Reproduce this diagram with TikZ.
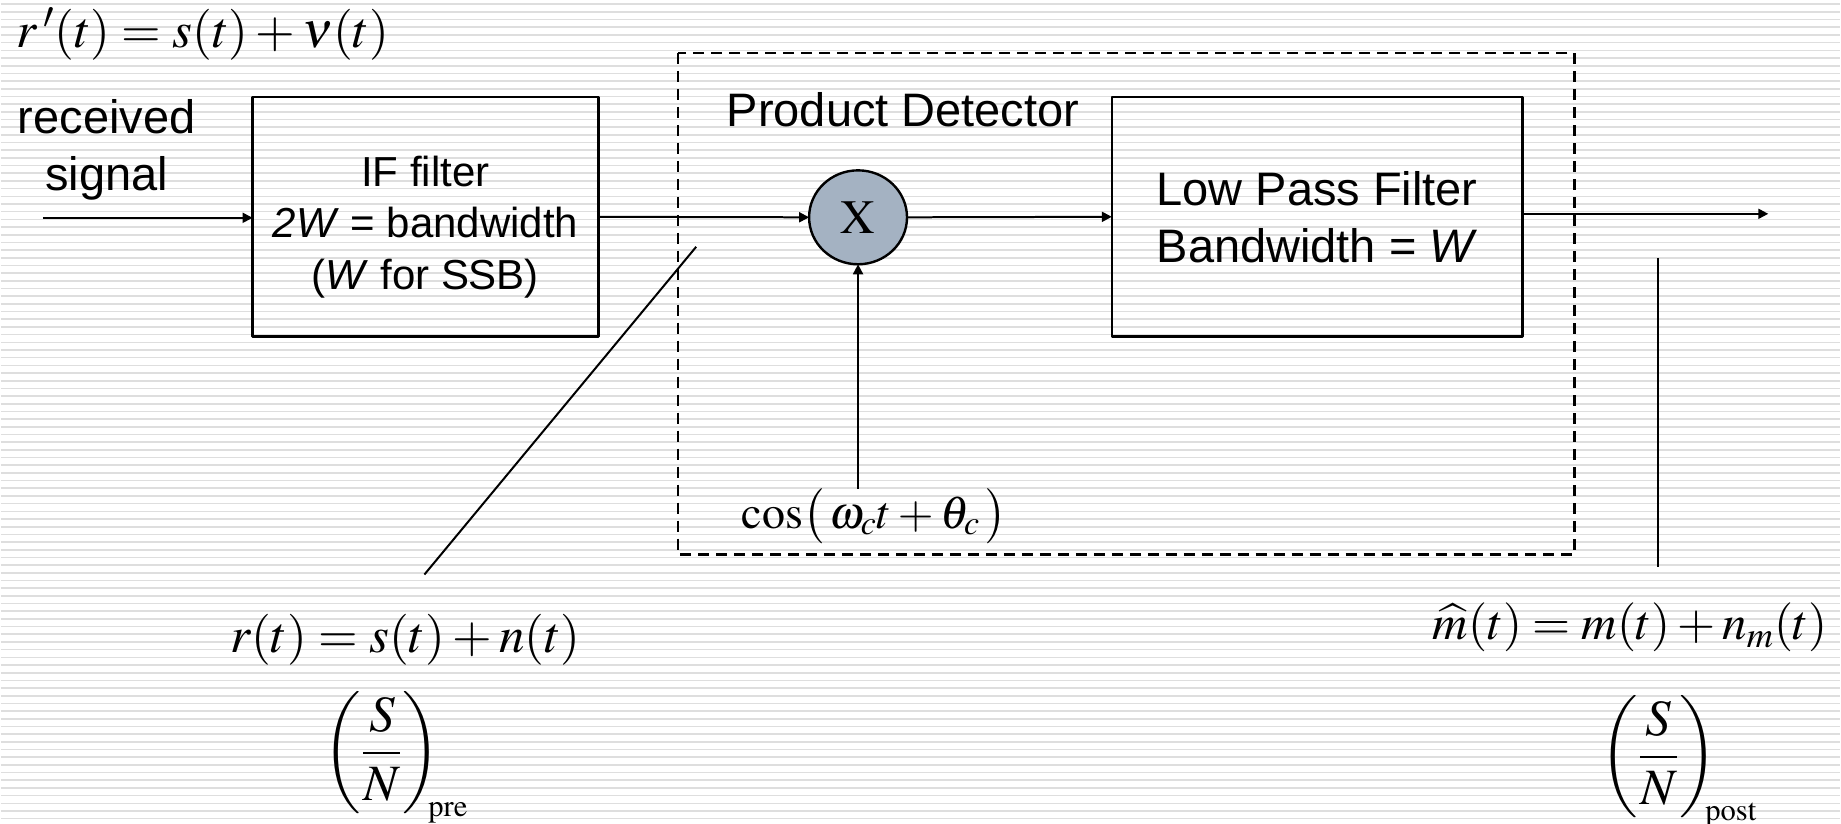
\documentclass[tikz,border=0pt]{standalone}
\usepackage{mathptmx}
\usepackage[no-math]{fontspec}
\setmainfont{Liberation Sans}
\usetikzlibrary{arrows.meta,shapes.geometric}
\definecolor{mixfill}{RGB}{164,178,194}
\definecolor{stripegray}{RGB}{222,222,222}
\begin{document}
\begin{tikzpicture}[x=0.5pt, y=-0.5pt, line join=round,
    every node/.style={inner sep=0pt, outer sep=0pt},
    stripe/.style={draw=stripegray, line width=0.8pt},
    lbl/.style={font=\fontsize{23.5}{28.5}\selectfont, align=center},
    eqn/.style={font=\fontsize{25.5}{30}\selectfont},
    blockbox/.style={draw, line width=1.3pt, minimum height=120pt},
    iftext/.style={font=\fontsize{21}{25.75}\selectfont, align=center},
    mixer/.style={ellipse, draw, line width=1.2pt, fill=mixfill, minimum width=49pt, minimum height=47pt, font=\fontsize{24}{28}\selectfont},
    sig/.style={line width=1pt, -{Triangle[length=5pt, width=5pt]}},
    wire/.style={line width=1pt},
    detbox/.style={draw, line width=1.2pt, dash pattern=on 5.5pt off 3.5pt}]
      \fill[white] (0,0) rectangle (1841,824);
      \foreach \k in {0,...,106}
        \draw[stripe] (0,4.25+7.69*\k) -- (1841,4.25+7.69*\k);
      \useasboundingbox (0,0) rectangle (1841,824);

      \coordinate (in) at (42,218);
      \coordinate (out) at (1769,214);
      \coordinate (pretip) at (696,247);
      \coordinate (prefoot) at (424,575);
      \coordinate (posttop) at (1659,258);
      \coordinate (postfoot) at (1659,567);

      \draw[detbox] (678,53) rectangle (1575,555);

      \node[eqn, anchor=west] (rprime) at (16,34) {$r\,{}'(t)=s(t)+\nu(t)$};
      \node[lbl] (recv) at (106,150) {received\\signal};
      \node[blockbox, minimum width=173pt] (iff) at (425,217) {};
      \node[iftext, yshift=-5pt] (ifftext) at (iff) {IF filter\\\textit{2W} = bandwidth\\(\textit{W} for SSB)};
      \node[mixer] (mix) at (858,217.5) {$\mathrm{X}$};
      \node[blockbox, lbl, minimum width=205.5pt] (lpf) at (1317.5,217) {Low Pass Filter\\Bandwidth = \textit{W}};
      \node[lbl] (pd) at (903,110) {Product Detector};
      \node[eqn, font=\fontsize{23}{28}\selectfont] (cosin) at (874,517) {$\cos\bigl(\,\omega_c t+\theta_c\,\bigr)$};
      \node[eqn] (rt) at (405,640) {$r(t)=s(t)+n(t)$};
      \node[eqn, anchor=west] (snpre) at (323,758) {$\left(\displaystyle\frac{S}{N}\right)_{\kern-6pt\scriptscriptstyle\mathrm{pre}}$};
      \node[eqn, font=\fontsize{24.5}{30}\selectfont] (mhat) at (1631,628) {$\widehat{m}(t)=m(t)+n_m(t)$};
      \node[eqn, anchor=west] (snpost) at (1601,762) {$\left(\displaystyle\frac{S}{N}\right)_{\kern-6pt\scriptscriptstyle\mathrm{post}}$};

      \draw[sig] (in) -- (in -| iff.west);
      \draw[sig] (iff.east) -- (mix.west);
      \draw[sig] (mix.east) -- (lpf.west);
      \draw[sig] (lpf.east |- out) -- (out);
      \draw[sig] (cosin.north -| mix.south) -- (mix.south);
      \draw[wire] (pretip) -- (prefoot);
      \draw[wire] (posttop) -- (postfoot);
    \end{tikzpicture}
\end{document}
